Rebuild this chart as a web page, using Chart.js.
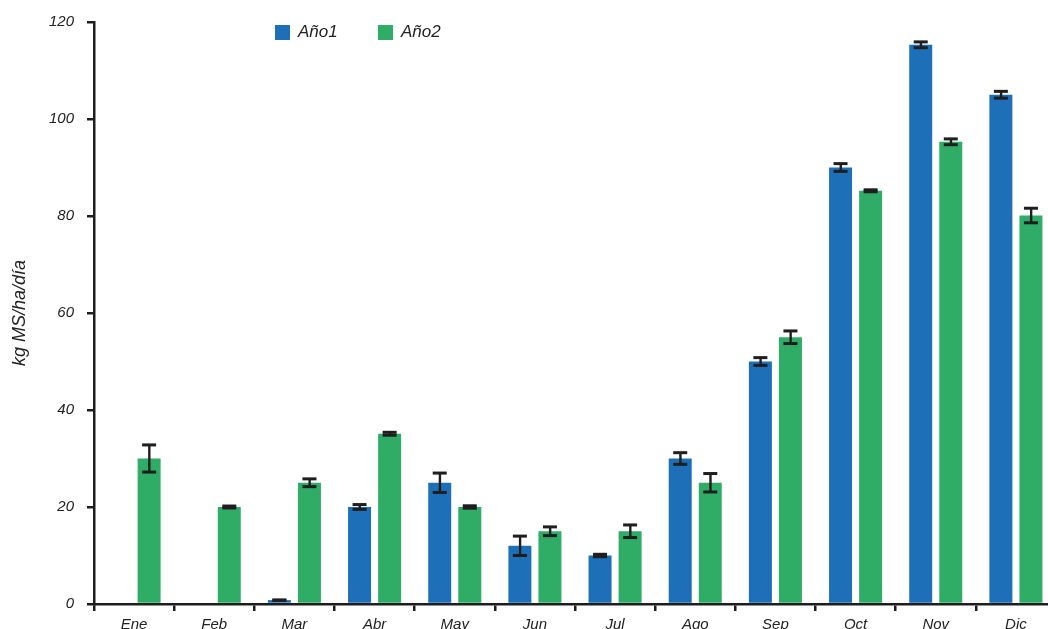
<!DOCTYPE html>
<html>
<head>
<meta charset="utf-8">
<script src="https://cdn.jsdelivr.net/npm/chart.js@4/dist/chart.umd.min.js"></script>
<style>
  html, body { margin: 0; padding: 0; background: #fff; overflow: hidden; width: 1048px; height: 629px; }
  #wrap { position: absolute; left: 0; top: 0; width: 1056px; height: 629px; }
</style>
</head>
<body>
<div id="wrap"><canvas id="canvas"></canvas></div>
<script>
const meses = ['Ene', 'Feb', 'Mar', 'Abr', 'May', 'Jun', 'Jul', 'Ago', 'Sep', 'Oct', 'Nov', 'Dic'];
const ano1 = [null, null, 0.8, 20, 25, 12, 10, 30, 50, 90, 115.3, 105];
const ano2 = [30, 20, 25, 35.1, 20, 15, 15, 25, 55, 85.2, 95.3, 80.1];
const err1 = [0, 0, 0, 0.5, 2, 2, 0.25, 1.2, 0.8, 0.8, 0.6, 0.7];
const err2 = [2.8, 0.2, 0.8, 0.3, 0.25, 0.9, 1.3, 1.9, 1.3, 0.2, 0.6, 1.5];
const yTicks = [0, 20, 40, 60, 80, 100, 120];

const AZUL = '#1d70b8';
const VERDE = '#2fad67';
const TINTA = '#1e1e1e';

Chart.defaults.font.family = "'Liberation Sans', Arial, sans-serif";
Chart.defaults.font.style = 'italic';
Chart.defaults.color = '#222';

// barras de error: tapa superior e inferior unidas por una linea
const errorBars = {
  id: 'errorBars',
  afterDatasetsDraw(chart) {
    const c = chart.ctx;
    const y = chart.scales.y;
    c.save();
    c.fillStyle = TINTA;
    chart.data.datasets.forEach((ds, i) => {
      const meta = chart.getDatasetMeta(i);
      meta.data.forEach((bar, j) => {
        const v = ds.data[j];
        if (v === null) return;
        const e = ds.errors[j];
        const top = y.getPixelForValue(v + e);
        const bot = y.getPixelForValue(v - e);
        c.fillRect(bar.x - 1, top, 2.4, bot - top);
        c.fillRect(bar.x - 7, top - 1.5, 14, 3);
        c.fillRect(bar.x - 7, bot - 1.5, 14, 3);
      });
    });
    c.restore();
  }
};

// leyenda dentro del area del grafico
const leyenda = {
  id: 'leyenda',
  afterDraw(chart) {
    const c = chart.ctx;
    c.save();
    c.font = "italic 17px 'Liberation Sans', Arial, sans-serif";
    c.textBaseline = 'middle';
    chart.data.datasets.forEach((ds, i) => {
      const x = 275 + i * 103;
      c.fillStyle = ds.backgroundColor;
      c.fillRect(x, 25, 15, 15);
      c.fillStyle = '#222';
      c.fillText(ds.label, x + 23, 32.5);
    });
    c.restore();
  }
};

new Chart(document.getElementById('canvas'), {
  type: 'bar',
  data: {
    labels: meses,
    datasets: [
      { label: 'Año1', data: ano1, errors: err1, backgroundColor: AZUL },
      { label: 'Año2', data: ano2, errors: err2, backgroundColor: VERDE }
    ]
  },
  options: {
    responsive: true,
    maintainAspectRatio: false,
    animation: false,
    layout: { padding: { top: 20, right: 0, left: 0, bottom: 0 } },
    categoryPercentage: 0.75,
    barPercentage: 0.765,
    plugins: {
      legend: { display: false },
      tooltip: { enabled: false }
    },
    scales: {
      x: {
        offset: true,
        border: { color: TINTA, width: 2.5 },
        grid: { offset: true, drawOnChartArea: false, drawTicks: true, tickLength: 7, color: TINTA, lineWidth: 2.5 },
        ticks: { padding: 5, font: { size: 15, style: 'italic' }, color: '#222', maxRotation: 0 },
        afterFit(scale) { scale.height = 25; }
      },
      y: {
        min: 0,
        max: 120,
        afterBuildTicks(scale) { scale.ticks = yTicks.map(v => ({ value: v })); },
        border: { color: TINTA, width: 2.5 },
        grid: { drawOnChartArea: false, drawTicks: true, tickLength: 7, color: TINTA, lineWidth: 2.5 },
        ticks: { padding: 13, font: { size: 15, style: 'italic' }, color: '#222' },
        title: {
          display: true,
          text: 'kg MS/ha/día',
          font: { size: 18, style: 'italic' },
          color: '#222',
          padding: { top: 9, bottom: 0 }
        },
        afterFit(scale) { scale.width = 94; }
      }
    }
  },
  plugins: [errorBars, leyenda]
});
</script>
</body>
</html>
